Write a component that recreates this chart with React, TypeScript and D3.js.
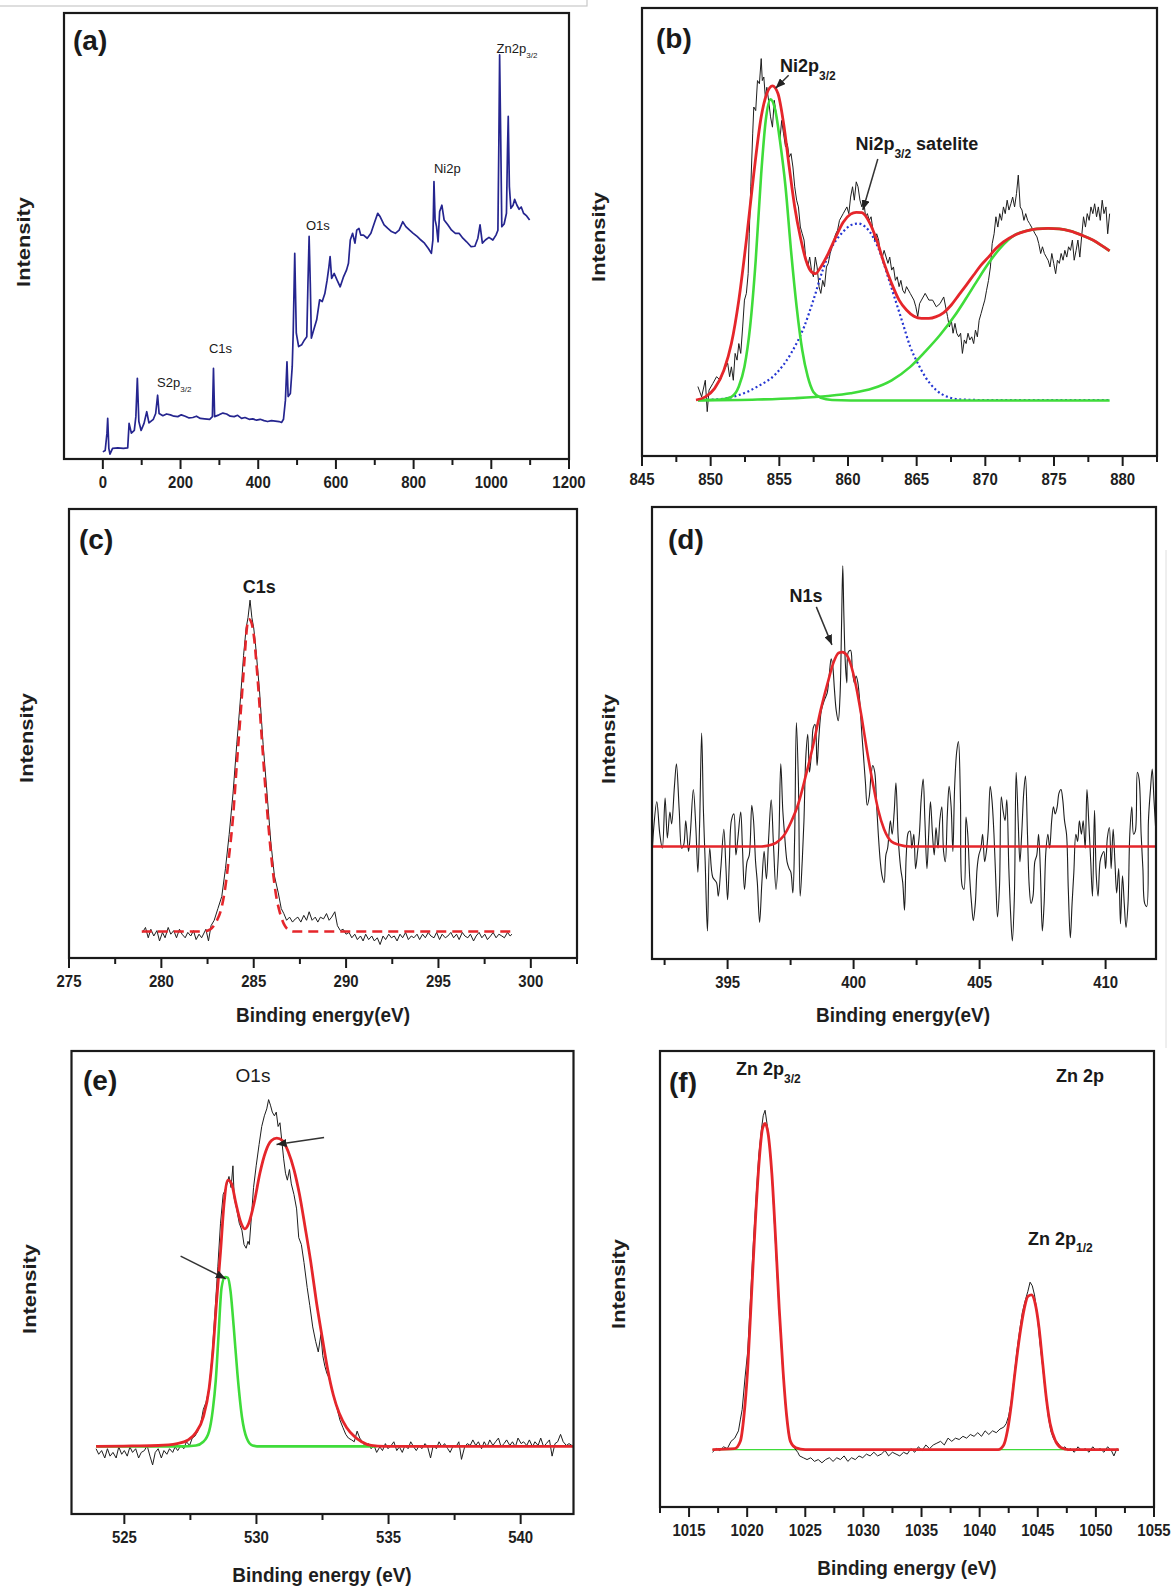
import React from "react";
import * as d3 from "d3";

type P = [number, number];

// ---------------- (a) survey spectrum ----------------
const surveyMajor = [0, 200, 400, 600, 800, 1000, 1200];
const surveyMinor = [100, 300, 500, 700, 900, 1100];
const surveySpectrum: P[] = [
  [0, 1.6], [6, 1.9], [10.6, 5.8], [12.5, 9.1], [15.4, 2.4], [18.3, 1.1], [25, 2.4], [38.6, 2.5], [53, 2.4], [64, 2.5],
  [67.6, 8.0], [73.4, 5.8], [81, 6.4], [85, 9.5], [88.8, 18.1], [92.7, 8.4], [98.5, 6.4], [106, 8.0], [113, 10.6], [118.7, 8.1],
  [130, 8.9], [136, 10.2], [141, 14.3], [144.8, 10.2], [154.5, 9.7], [164, 10.1], [174, 9.9], [183, 9.6], [193, 9.5], [202, 9.9],
  [212, 9.6], [222, 9.2], [231.7, 9.3], [241, 9.6], [251, 9.1], [262, 9.0], [275, 8.9], [282, 9.5], [284.8, 20.3], [287.7, 9.5],
  [299, 9.9], [309, 10.3], [318.6, 10.1], [328, 9.6], [338, 9.5], [347, 9.8], [357, 9.1], [366, 9.3], [376.5, 8.9], [386, 9.0],
  [395.8, 8.7], [405, 8.9], [415, 8.6], [424, 8.4], [434, 8.6], [444, 8.5], [453.7, 8.4], [460, 8.2], [465, 8.9], [470, 13.2],
  [474, 21.8], [477, 14.0], [482.7, 14.7], [487.5, 20.7], [490, 28.2], [494, 46.1], [498, 28.2], [504, 25.2], [511.7, 25.6], [519, 26.7],
  [525, 27.4], [528, 39.4], [531, 49.9], [534, 39.4], [536.8, 27.1], [542.7, 28.9], [550.5, 31.2], [558, 35.7], [564.8, 35.3], [571.5, 37.1],
  [577.3, 40.1], [582, 43.1], [585, 45.4], [589, 40.5], [595.6, 41.6], [603, 40.1], [611, 38.6], [619.8, 40.9], [627.5, 42.4], [632.3, 43.9],
  [637, 49.1], [643, 50.6], [649, 48.4], [653.6, 51.3], [659.4, 51.7], [664, 50.2], [671, 50.2], [680.6, 49.5], [690, 50.6], [700, 53.2],
  [707.6, 55.1], [714, 54.3], [724, 52.5], [733.7, 51.7], [743, 51.0], [753, 50.6], [762.7, 51.3], [772, 53.2], [780, 52.1], [789.7, 51.3],
  [799, 50.6], [809, 49.9], [818.7, 49.1], [828, 48.4], [838, 47.2], [845.7, 46.1], [849.6, 49.1], [852.4, 62.2], [855.3, 53.6], [859, 52.1],
  [863, 48.7], [867, 55.5], [872.7, 56.9], [878.5, 53.6], [888, 52.5], [897.8, 51.3], [907.5, 50.6], [917, 50.6], [926.8, 49.5], [936.4, 48.7],
  [948, 47.6], [957.7, 47.7], [965.4, 49.5], [971, 52.5], [977, 48.4], [984.7, 49.1], [994, 49.7], [1004, 49.1], [1012, 50.2], [1017, 51.3],
  [1019.5, 71.5], [1021.4, 90.6], [1024.3, 71.5], [1027, 52.1], [1033, 52.7], [1039, 55.1], [1041.7, 69.3], [1043.6, 76.8], [1046.5, 61.1], [1050.4, 56.2],
  [1056, 56.9], [1060, 58.2], [1066, 56.9], [1071.6, 56.0], [1077, 56.5], [1083, 55.1], [1091, 54.5], [1098.6, 53.6],
];

// ---------------- (b) Ni 2p ----------------
const niMajor = [845, 850, 855, 860, 865, 870, 875, 880];
const niMinor = [847.5, 852.5, 857.5, 862.5, 867.5, 872.5, 877.5, 882.5];
const niMeasured: P[] = [
  [849.07, 15.5], [849.34, 13.2], [849.61, 16.9], [849.75, 9.9], [849.88, 14.7], [850.16, 16.2], [850.43, 17.7], [850.7, 16.9], [850.97, 19.2], [851.24, 20.7],
  [851.38, 17.7], [851.51, 19.9], [851.65, 16.9], [851.78, 22.9], [851.92, 21.4], [852.05, 25.1], [852.19, 22.9], [852.33, 28.8], [852.46, 34.8], [852.6, 36.3],
  [852.73, 40.7], [852.81, 49.6], [852.92, 60.1], [853.06, 71.9], [853.14, 77.9], [853.28, 77.1], [853.41, 83.8], [853.55, 83.1], [853.68, 88.7], [853.76, 83.8],
  [853.87, 84.6], [853.98, 80.1], [854.09, 82.3], [854.22, 79.4], [854.36, 75.7], [854.5, 73.4], [854.63, 79.4], [854.77, 76.4], [854.9, 73.4], [855.04, 70.5],
  [855.17, 74.9], [855.31, 71.9], [855.45, 69.0], [855.58, 69.7], [855.72, 66.7], [855.85, 67.5], [855.99, 64.5], [856.12, 60.1], [856.26, 57.1], [856.39, 55.6],
  [856.53, 51.1], [856.67, 49.6], [856.8, 48.2], [856.94, 43.7], [857.07, 42.2], [857.21, 44.4], [857.34, 41.5], [857.48, 40.0], [857.62, 44.4], [857.75, 42.2],
  [857.89, 37.8], [858.02, 36.3], [858.16, 39.2], [858.29, 37.8], [858.43, 42.2], [858.56, 43.0], [858.7, 45.2], [858.84, 46.7], [858.97, 48.2], [859.11, 49.6],
  [859.24, 50.4], [859.38, 52.6], [859.65, 54.1], [859.92, 55.6], [860.06, 54.1], [860.19, 57.8], [860.33, 60.1], [860.46, 57.1], [860.6, 61.2], [860.73, 60.1],
  [860.87, 57.1], [861.01, 55.6], [861.14, 57.1], [861.28, 53.4], [861.41, 54.1], [861.55, 52.6], [861.68, 53.4], [861.82, 50.4], [861.95, 48.2], [862.09, 49.6],
  [862.23, 48.2], [862.36, 45.2], [862.5, 44.4], [862.63, 45.9], [862.91, 43.0], [863.04, 44.4], [863.18, 41.5], [863.31, 42.2], [863.45, 39.2], [863.58, 40.0],
  [863.72, 37.8], [863.85, 39.2], [863.99, 37.0], [864.13, 36.3], [864.26, 37.8], [864.53, 36.3], [864.8, 34.8], [864.94, 33.3], [865.08, 31.1], [865.21, 34.0],
  [865.35, 34.8], [865.62, 36.3], [865.89, 34.8], [866.16, 34.8], [866.43, 33.3], [866.7, 34.0], [866.97, 35.5], [867.25, 31.1], [867.38, 28.8], [867.52, 30.3],
  [867.65, 27.4], [867.79, 29.6], [867.92, 27.4], [868.06, 26.6], [868.2, 27.4], [868.33, 22.9], [868.47, 25.9], [868.6, 25.1], [868.74, 27.4], [868.87, 25.9],
  [869.01, 26.6], [869.15, 25.1], [869.28, 28.1], [869.42, 26.6], [869.55, 30.3], [869.69, 31.8], [869.82, 33.3], [869.96, 34.8], [870.09, 37.0], [870.23, 39.2],
  [870.37, 42.2], [870.5, 47.4], [870.64, 49.6], [870.77, 53.4], [870.91, 51.1], [871.05, 54.1], [871.18, 52.6], [871.32, 55.6], [871.45, 54.1], [871.59, 57.1],
  [871.72, 54.9], [871.86, 56.3], [871.99, 57.8], [872.13, 55.6], [872.27, 58.6], [872.4, 62.7], [872.54, 55.6], [872.67, 54.9], [872.81, 52.6], [872.94, 54.1],
  [873.08, 52.6], [873.22, 51.9], [873.49, 50.4], [873.62, 49.6], [873.76, 48.9], [873.89, 47.4], [874.03, 45.2], [874.16, 46.7], [874.3, 45.2], [874.44, 44.4],
  [874.57, 43.7], [874.71, 42.2], [874.84, 45.2], [874.98, 43.0], [875.12, 40.7], [875.25, 43.7], [875.39, 43.0], [875.52, 45.2], [875.66, 43.7], [875.79, 45.9],
  [875.93, 44.4], [876.06, 46.7], [876.2, 45.9], [876.34, 48.2], [876.47, 43.7], [876.61, 45.9], [876.74, 48.2], [876.88, 44.4], [877.01, 48.9], [877.15, 53.4],
  [877.29, 51.1], [877.42, 54.1], [877.56, 52.6], [877.69, 55.6], [877.83, 54.1], [877.96, 56.3], [878.1, 53.4], [878.23, 55.6], [878.37, 52.6], [878.51, 57.1],
  [878.64, 54.1], [878.78, 55.6], [878.91, 49.6], [879.05, 54.1],
];
const niEnvelope: P[] = [
  [848.93, 12.5], [849.61, 13.2], [850.29, 15.1], [850.97, 19.2], [851.51, 25.1], [852.05, 34.8], [852.6, 48.2], [853.14, 63.0], [853.68, 75.7], [854.09, 80.9],
  [854.5, 82.6], [854.9, 80.9], [855.31, 74.2], [855.72, 64.5], [856.12, 55.6], [856.53, 48.9], [856.94, 43.7], [857.34, 41.1], [857.62, 40.7], [858.02, 42.2],
  [858.56, 45.2], [859.11, 48.9], [859.65, 52.2], [860.19, 54.0], [860.6, 54.4], [861.01, 54.3], [861.55, 52.2], [862.09, 48.2], [862.63, 43.0], [863.18, 38.5],
  [863.72, 34.8], [864.26, 32.6], [864.8, 31.2], [865.35, 30.7], [865.89, 30.7], [866.43, 31.1], [866.97, 32.0], [867.52, 33.7], [868.06, 35.9], [868.6, 38.1],
  [869.15, 40.4], [869.69, 42.6], [870.23, 44.4], [870.77, 46.3], [871.32, 47.8], [872.13, 49.3], [872.94, 50.2], [873.76, 50.7], [874.57, 50.8], [875.39, 50.7],
  [876.2, 50.2], [877.01, 49.3], [877.83, 48.2], [878.51, 46.9], [879.05, 45.8],
];
const niMainPeak: P[] = [
  [849.07, 12.5], [850.7, 12.6], [851.51, 13.2], [852.05, 15.5], [852.46, 19.9], [852.87, 28.8], [853.28, 43.7], [853.68, 63.0], [854.01, 74.9], [854.36, 79.6],
  [854.71, 77.1], [855.04, 70.5], [855.45, 60.1], [855.85, 45.9], [856.26, 33.3], [856.67, 23.6], [857.07, 17.7], [857.48, 14.3], [858.02, 13.0], [858.84, 12.5],
  [860.19, 12.4], [879.05, 12.4],
];
const niBroadPeak: P[] = [
  [849.07, 12.4], [853.41, 12.6], [856.12, 12.9], [858.56, 13.4], [860.19, 14.0], [861.82, 15.1], [863.18, 16.9], [864.53, 19.9], [865.62, 23.3], [866.7, 27.0],
  [867.79, 31.4], [868.6, 35.2], [869.42, 39.2], [870.23, 43.0], [871.05, 46.3], [872.13, 49.3], [872.94, 50.2], [873.76, 50.7], [874.57, 50.8], [875.39, 50.7],
  [876.2, 50.2], [877.01, 49.3], [877.83, 48.2], [878.51, 46.9], [879.05, 45.8],
];
const niSatellite: P[] = [
  [849.07, 12.5], [850.7, 12.7], [852.05, 13.6], [853.41, 15.5], [854.77, 18.4], [855.85, 22.9], [856.8, 28.8], [857.48, 34.8], [858.16, 41.5], [858.84, 46.7],
  [859.51, 49.6], [860.19, 51.5], [860.73, 51.9], [861.28, 51.1], [861.82, 48.9], [862.36, 45.2], [862.91, 40.0], [863.45, 34.8], [863.99, 29.6], [864.53, 24.4],
  [865.08, 20.7], [865.62, 17.7], [866.43, 14.7], [867.25, 13.2], [868.33, 12.6], [869.69, 12.5], [879.05, 12.5],
];

// ---------------- (c) C 1s ----------------
const cMajor = [275, 280, 285, 290, 295, 300];
const cMinor = [277.5, 282.5, 287.5, 292.5, 297.5, 302.5];
const cMeasured: P[] = [
  [278.98, 5.7], [279.14, 6.8], [279.29, 4.5], [279.43, 6.4], [279.59, 4.9], [279.76, 6.1], [279.9, 3.8], [280.06, 5.7], [280.2, 4.5], [280.37, 6.8],
  [280.51, 5.3], [280.67, 6.1], [280.82, 4.5], [280.98, 6.4], [281.12, 5.3], [281.29, 4.5], [281.43, 5.7], [281.59, 4.9], [281.74, 6.1], [281.88, 4.1],
  [282.04, 5.3], [282.18, 4.5], [282.41, 6.4], [282.55, 3.8], [282.69, 7.2], [282.86, 8.4], [283.06, 11.0], [283.27, 13.7], [283.47, 19.9], [283.67, 27.5],
  [283.88, 36.7], [284.08, 47.5], [284.29, 58.2], [284.45, 67.4], [284.59, 73.5], [284.69, 75.8], [284.8, 79.7], [284.9, 75.8], [285.0, 73.5], [285.1, 69.7],
  [285.31, 59.7], [285.51, 47.5], [285.72, 36.7], [285.92, 26.0], [286.12, 18.3], [286.33, 14.5], [286.49, 11.0], [286.63, 9.9], [286.78, 8.4], [286.94, 9.1],
  [287.1, 8.0], [287.25, 8.7], [287.39, 9.1], [287.55, 8.0], [287.71, 9.5], [287.86, 8.4], [288.0, 10.3], [288.16, 8.4], [288.33, 9.1], [288.47, 8.0],
  [288.61, 9.1], [288.78, 8.7], [288.94, 9.9], [289.08, 8.4], [289.22, 9.1], [289.39, 10.3], [289.53, 7.2], [289.69, 6.1], [289.84, 6.4], [290.0, 5.3],
  [290.16, 5.7], [290.31, 4.5], [290.47, 5.3], [290.61, 4.1], [290.78, 4.9], [290.92, 3.8], [291.06, 5.3], [291.22, 4.1], [291.39, 4.9], [291.53, 3.8],
  [291.69, 4.5], [291.84, 3.0], [292.0, 4.9], [292.14, 4.1], [292.31, 5.3], [292.45, 4.5], [292.61, 4.9], [292.76, 3.8], [292.92, 5.3], [293.06, 4.5],
  [293.22, 5.7], [293.37, 4.1], [293.53, 4.9], [293.67, 4.5], [293.84, 5.3], [293.98, 4.1], [294.14, 5.3], [294.29, 4.5], [294.45, 5.7], [294.59, 4.9],
  [294.76, 4.5], [294.9, 5.7], [295.06, 4.1], [295.2, 5.3], [295.37, 4.5], [295.51, 4.9], [295.67, 5.7], [295.82, 4.5], [295.98, 5.3], [296.12, 4.1],
  [296.29, 5.7], [296.43, 4.9], [296.59, 4.5], [296.73, 5.3], [296.9, 3.8], [297.04, 4.9], [297.2, 5.7], [297.35, 4.5], [297.51, 5.3], [297.65, 4.1],
  [297.82, 4.9], [297.96, 5.7], [298.12, 4.5], [298.27, 5.3], [298.43, 4.9], [298.57, 4.5], [298.74, 5.7], [298.88, 4.9], [298.98, 5.3],
];
const cFit: P[] = [
  [278.94, 5.9], [282.24, 5.9], [282.65, 6.4], [282.96, 8.0], [283.27, 11.4], [283.47, 16.0], [283.67, 22.9], [283.88, 31.4], [284.08, 42.9], [284.29, 54.4],
  [284.49, 65.9], [284.63, 73.5], [284.73, 75.5], [284.84, 75.1], [285.0, 72.0], [285.2, 62.8], [285.41, 50.5], [285.61, 39.0], [285.82, 28.3], [286.02, 19.9],
  [286.22, 13.7], [286.43, 9.9], [286.63, 7.6], [286.84, 6.4], [287.14, 5.9], [298.98, 5.9],
];

// ---------------- (d) N 1s ----------------
const nMajor = [395, 400, 405, 410];
const nMinor = [392.5, 397.5, 402.5, 407.5];
const nMeasured: P[] = [
  [391.97, 18.8], [392.07, 29.1], [392.19, 34.8], [392.31, 27.6], [392.41, 24.5], [392.52, 35.6], [392.61, 26.8], [392.71, 32.5], [392.78, 29.9], [392.89, 38.2],
  [392.97, 43.2], [393.08, 32.9], [393.18, 24.5], [393.26, 25.3], [393.34, 30.6], [393.45, 23.8], [393.52, 27.6], [393.64, 37.5], [393.74, 29.1], [393.82, 19.2],
  [393.89, 29.9], [393.97, 50.0], [394.04, 32.9], [394.11, 21.5], [394.2, 6.2], [394.29, 24.5], [394.41, 18.1], [394.56, 16.9], [394.63, 13.9], [394.73, 20.0],
  [394.85, 28.7], [394.93, 20.7], [395.0, 13.1], [395.07, 21.5], [395.15, 30.6], [395.25, 32.1], [395.33, 23.0], [395.41, 26.8], [395.52, 32.5], [395.59, 24.5],
  [395.67, 15.4], [395.77, 21.5], [395.86, 23.0], [395.96, 34.0], [396.03, 30.6], [396.11, 21.5], [396.18, 16.9], [396.27, 8.1], [396.36, 16.9], [396.45, 23.8],
  [396.54, 17.7], [396.63, 26.8], [396.73, 35.2], [396.82, 25.3], [396.92, 15.4], [397.02, 23.8], [397.11, 43.2], [397.19, 32.9], [397.26, 27.6], [397.36, 21.5],
  [397.44, 20.0], [397.51, 19.2], [397.59, 14.6], [397.66, 26.8], [397.73, 52.3], [397.81, 39.0], [397.88, 13.9], [397.96, 21.5], [398.03, 30.6], [398.1, 44.3],
  [398.18, 49.7], [398.25, 41.3], [398.34, 46.6], [398.4, 51.2], [398.47, 51.9], [398.55, 42.8], [398.62, 48.9], [398.72, 55.0], [398.84, 57.3], [398.95, 58.8],
  [399.03, 62.6], [399.11, 66.4], [399.17, 64.9], [399.24, 59.6], [399.31, 55.0], [399.39, 52.7], [399.46, 58.0], [399.52, 73.3], [399.57, 87.0], [399.61, 77.1],
  [399.67, 65.7], [399.73, 61.1], [399.79, 67.9], [399.88, 68.3], [399.95, 64.1], [400.03, 61.1], [400.1, 62.6], [400.17, 61.1], [400.25, 56.5], [400.32, 50.4],
  [400.39, 45.1], [400.47, 39.0], [400.54, 34.0], [400.62, 35.9], [400.69, 40.5], [400.76, 42.8], [400.84, 41.3], [400.91, 34.4], [400.98, 27.6], [401.06, 21.5],
  [401.13, 18.4], [401.21, 16.9], [401.28, 23.0], [401.35, 24.5], [401.46, 30.6], [401.53, 27.6], [401.61, 32.5], [401.68, 39.0], [401.77, 26.8], [401.87, 20.0],
  [401.95, 16.9], [402.02, 10.8], [402.09, 23.0], [402.17, 28.0], [402.24, 28.3], [402.31, 24.5], [402.39, 27.6], [402.46, 20.0], [402.54, 23.8], [402.61, 27.6],
  [402.68, 35.2], [402.76, 39.8], [402.83, 30.6], [402.91, 20.0], [402.98, 27.6], [403.05, 34.8], [403.13, 27.6], [403.2, 23.0], [403.27, 29.1], [403.35, 24.5],
  [403.42, 30.6], [403.5, 33.7], [403.57, 23.8], [403.64, 21.5], [403.72, 32.1], [403.79, 38.2], [403.87, 33.7], [403.94, 23.8], [404.01, 38.2], [404.09, 45.8],
  [404.16, 48.1], [404.24, 35.2], [404.31, 16.1], [404.38, 15.4], [404.46, 31.4], [404.53, 27.6], [404.61, 17.7], [404.68, 12.3], [404.75, 8.5], [404.83, 12.3],
  [404.9, 20.0], [404.97, 23.0], [405.05, 24.5], [405.12, 27.6], [405.2, 21.5], [405.27, 23.8], [405.34, 28.3], [405.42, 38.2], [405.49, 35.2], [405.57, 27.6],
  [405.64, 17.7], [405.71, 9.3], [405.79, 16.1], [405.86, 35.9], [405.93, 32.9], [406.01, 30.6], [406.08, 35.2], [406.16, 20.0], [406.23, 10.1], [406.3, 4.0],
  [406.38, 13.9], [406.45, 41.3], [406.53, 30.6], [406.6, 21.5], [406.67, 27.6], [406.75, 36.7], [406.82, 40.5], [406.9, 27.6], [406.97, 16.1], [407.04, 12.3],
  [407.12, 13.9], [407.19, 21.5], [407.27, 23.0], [407.34, 27.6], [407.41, 20.0], [407.49, 6.2], [407.56, 12.3], [407.63, 23.8], [407.71, 27.6], [407.78, 24.5],
  [407.86, 30.6], [407.93, 33.7], [408.0, 32.1], [408.08, 33.7], [408.15, 36.7], [408.23, 37.5], [408.3, 35.2], [408.37, 30.6], [408.45, 27.6], [408.52, 15.4],
  [408.6, 4.7], [408.67, 12.3], [408.74, 19.2], [408.82, 27.6], [408.89, 26.0], [408.96, 30.6], [409.04, 27.6], [409.11, 30.6], [409.19, 24.5], [409.26, 37.5],
  [409.33, 30.6], [409.41, 21.5], [409.48, 13.9], [409.56, 32.9], [409.63, 18.4], [409.7, 13.9], [409.78, 21.5], [409.85, 23.0], [409.93, 23.8], [410.0, 20.0],
  [410.07, 26.8], [410.15, 29.1], [410.22, 20.0], [410.3, 28.7], [410.37, 21.5], [410.44, 14.6], [410.52, 20.0], [410.59, 7.8], [410.67, 18.4], [410.74, 12.3],
  [410.81, 7.0], [410.89, 12.3], [410.96, 27.6], [411.04, 33.7], [411.11, 27.6], [411.18, 28.3], [411.26, 41.3], [411.33, 39.8], [411.41, 27.6], [411.48, 20.0],
  [411.55, 12.3], [411.63, 11.6], [411.7, 30.6], [411.78, 37.5], [411.85, 42.0], [411.92, 35.2], [412.0, 27.6],
];
const nFit: P[] = [
  [391.97, 24.9], [396.33, 24.9], [396.63, 25.1], [396.92, 25.7], [397.22, 27.2], [397.51, 30.2], [397.81, 34.4], [398.1, 40.5], [398.4, 47.4], [398.69, 55.0],
  [398.99, 61.5], [399.21, 65.7], [399.4, 67.7], [399.55, 67.9], [399.73, 67.2], [399.88, 65.3], [400.1, 60.3], [400.32, 53.5], [400.54, 45.8], [400.76, 39.0],
  [400.98, 32.9], [401.21, 28.7], [401.5, 26.0], [401.8, 25.3], [402.24, 24.9], [412.0, 24.9],
];

// ---------------- (e) O 1s ----------------
const oMajor = [525, 530, 535, 540];
const oMinor = [527.5, 532.5, 537.5];
const oMeasured: P[] = [
  [523.93, 14.1], [524.03, 12.9], [524.14, 13.7], [524.26, 12.1], [524.36, 14.1], [524.46, 12.5], [524.57, 13.3], [524.69, 12.1], [524.79, 14.5], [524.9, 12.9],
  [525.0, 13.7], [525.11, 12.5], [525.21, 14.5], [525.31, 13.3], [525.43, 14.1], [525.54, 12.1], [525.64, 13.3], [525.76, 13.7], [525.86, 14.8], [525.97, 12.5],
  [526.07, 10.6], [526.17, 13.3], [526.28, 14.1], [526.4, 12.1], [526.5, 13.7], [526.61, 12.9], [526.71, 14.1], [526.83, 13.3], [526.92, 14.5], [527.02, 13.7],
  [527.14, 14.8], [527.25, 14.1], [527.35, 15.6], [527.47, 14.8], [527.57, 16.4], [527.67, 16.8], [527.78, 17.9], [527.89, 19.5], [527.99, 22.6], [528.09, 24.1],
  [528.21, 27.2], [528.31, 33.4], [528.42, 42.7], [528.54, 53.5], [528.64, 62.8], [528.74, 69.0], [528.85, 70.5], [528.96, 72.9], [529.04, 70.5], [529.11, 75.2],
  [529.16, 68.2], [529.25, 65.9], [529.35, 62.8], [529.45, 61.3], [529.53, 58.2], [529.61, 57.4], [529.68, 58.9], [529.73, 58.2], [529.81, 64.3], [529.89, 70.5],
  [529.99, 75.2], [530.1, 79.8], [530.2, 83.7], [530.3, 86.0], [530.39, 87.5], [530.46, 89.5], [530.53, 88.3], [530.6, 86.8], [530.68, 86.0], [530.75, 86.8],
  [530.82, 83.7], [530.89, 84.5], [530.96, 80.6], [531.03, 76.7], [531.1, 73.6], [531.17, 72.1], [531.25, 74.4], [531.32, 71.3], [531.42, 69.0], [531.52, 65.9],
  [531.6, 59.7], [531.7, 58.2], [531.8, 54.3], [531.92, 48.9], [532.02, 45.0], [532.13, 40.4], [532.24, 37.3], [532.34, 35.0], [532.44, 38.8], [532.51, 34.2],
  [532.59, 31.9], [532.67, 30.3], [532.74, 29.5], [532.84, 27.2], [532.94, 24.9], [533.06, 22.6], [533.16, 20.3], [533.27, 18.7], [533.38, 17.2], [533.48, 16.4],
  [533.6, 16.0], [533.7, 15.6], [533.81, 17.9], [533.91, 16.4], [534.01, 15.6], [534.13, 14.5], [534.24, 15.2], [534.34, 14.1], [534.45, 14.8], [534.55, 13.3],
  [534.67, 14.5], [534.77, 13.7], [534.88, 15.2], [534.98, 14.1], [535.1, 14.8], [535.2, 15.6], [535.31, 13.7], [535.41, 14.5], [535.52, 13.3], [535.62, 14.8],
  [535.74, 14.1], [535.84, 15.6], [535.95, 14.5], [536.05, 13.7], [536.16, 14.8], [536.26, 14.1], [536.38, 15.2], [536.48, 14.5], [536.59, 12.1], [536.69, 14.8],
  [536.81, 14.1], [536.91, 15.6], [537.02, 14.5], [537.12, 15.2], [537.24, 14.1], [537.33, 13.3], [537.45, 14.8], [537.55, 14.5], [537.66, 15.6], [537.76, 11.8],
  [537.88, 14.5], [537.98, 15.2], [538.09, 14.8], [538.19, 16.0], [538.3, 14.8], [538.4, 15.6], [538.52, 14.1], [538.62, 15.6], [538.73, 14.5], [538.83, 16.0],
  [538.95, 14.8], [539.05, 15.6], [539.16, 16.4], [539.26, 14.5], [539.37, 15.2], [539.47, 16.0], [539.59, 14.8], [539.69, 15.6], [539.8, 14.5], [539.9, 16.4],
  [540.02, 15.2], [540.11, 15.6], [540.23, 14.8], [540.33, 16.0], [540.45, 14.5], [540.54, 15.6], [540.66, 14.8], [540.76, 16.4], [540.87, 14.5], [540.97, 15.2],
  [541.09, 16.0], [541.19, 12.5], [541.3, 15.2], [541.4, 15.6], [541.51, 17.2], [541.61, 15.6], [541.73, 14.8], [541.83, 15.2], [541.94, 14.8],
];
const oEnvelope: P[] = [
  [523.93, 14.6], [525.29, 14.7], [526.28, 14.8], [527.0, 15.2], [527.42, 16.0], [527.71, 17.6], [527.99, 21.0], [528.21, 27.2], [528.35, 35.0], [528.49, 45.8],
  [528.64, 56.6], [528.78, 67.4], [528.92, 72.1], [529.06, 71.3], [529.21, 67.4], [529.42, 62.8], [529.56, 61.6], [529.71, 62.8], [529.92, 67.4], [530.13, 73.6],
  [530.35, 78.3], [530.56, 80.6], [530.77, 81.2], [530.99, 80.6], [531.2, 78.3], [531.42, 74.4], [531.63, 69.0], [531.84, 62.0], [532.06, 54.3], [532.27, 45.8],
  [532.49, 38.1], [532.7, 31.1], [532.91, 25.7], [533.13, 21.8], [533.41, 18.7], [533.7, 16.8], [533.98, 15.6], [534.34, 14.8], [534.84, 14.6], [542.0, 14.6],
];
const oLatticePeak: P[] = [
  [523.93, 14.6], [527.14, 14.6], [527.71, 14.8], [527.99, 15.6], [528.21, 17.9], [528.35, 22.6], [528.46, 28.8], [528.56, 38.1], [528.68, 48.9], [528.81, 51.2],
  [528.92, 51.0], [529.02, 48.1], [529.14, 40.4], [529.28, 30.3], [529.45, 21.0], [529.63, 16.4], [529.85, 14.8], [530.13, 14.6], [534.55, 14.6],
];

// ---------------- (f) Zn 2p ----------------
const zMajor = [1015, 1020, 1025, 1030, 1035, 1040, 1045, 1050, 1055];
const zMinor = [1012.5, 1017.5, 1022.5, 1027.5, 1032.5, 1037.5, 1042.5, 1047.5, 1052.5];
const zMeasured: P[] = [
  [1017.01, 12.0], [1017.33, 12.8], [1017.65, 12.4], [1017.97, 13.2], [1018.29, 12.8], [1018.61, 14.4], [1018.93, 15.1], [1019.25, 16.7], [1019.41, 19.1], [1019.57, 21.4],
  [1019.82, 28.5], [1020.04, 34.0], [1020.27, 45.0], [1020.52, 57.5], [1020.78, 68.5], [1021.0, 77.2], [1021.22, 82.7], [1021.38, 85.8], [1021.54, 87.0], [1021.7, 84.2],
  [1021.86, 81.1], [1022.12, 73.2], [1022.44, 57.5], [1022.76, 42.6], [1023.08, 29.3], [1023.33, 21.4], [1023.56, 15.9], [1023.87, 13.6], [1024.1, 12.8], [1024.35, 12.0],
  [1024.51, 11.2], [1024.83, 10.8], [1025.15, 10.4], [1025.47, 10.8], [1025.79, 10.0], [1026.11, 10.4], [1026.43, 9.7], [1026.75, 10.4], [1027.07, 10.8], [1027.39, 10.0],
  [1027.71, 10.8], [1028.02, 10.4], [1028.34, 11.2], [1028.66, 10.0], [1028.98, 10.8], [1029.3, 10.4], [1029.62, 11.2], [1029.94, 10.8], [1030.26, 11.6], [1030.58, 11.2],
  [1030.9, 12.0], [1031.22, 11.2], [1031.54, 11.6], [1031.86, 12.4], [1032.17, 11.2], [1032.49, 12.0], [1032.81, 11.6], [1033.13, 11.2], [1033.45, 12.0], [1033.77, 11.6],
  [1034.09, 12.8], [1034.41, 12.0], [1034.73, 13.2], [1035.05, 12.4], [1035.37, 13.6], [1035.69, 12.8], [1036.01, 13.6], [1036.32, 14.0], [1036.64, 14.4], [1036.96, 13.6],
  [1037.28, 15.1], [1037.6, 14.4], [1037.92, 15.1], [1038.24, 14.8], [1038.56, 15.5], [1038.88, 15.1], [1039.2, 15.9], [1039.52, 15.5], [1039.84, 16.3], [1040.16, 15.5],
  [1040.47, 16.7], [1040.79, 15.9], [1041.11, 16.7], [1041.43, 16.3], [1041.75, 17.1], [1042.07, 17.5], [1042.29, 18.3], [1042.49, 19.9], [1042.71, 23.0], [1042.93, 27.7],
  [1043.19, 34.0], [1043.44, 38.7], [1043.67, 42.6], [1043.89, 45.0], [1044.15, 47.3], [1044.34, 49.3], [1044.53, 48.5], [1044.72, 46.5], [1044.94, 42.6], [1045.17, 36.3],
  [1045.42, 30.8], [1045.68, 24.6], [1045.9, 19.9], [1046.12, 16.7], [1046.38, 14.8], [1046.63, 14.4], [1046.86, 13.6], [1047.08, 12.8], [1047.34, 13.2], [1047.59, 12.4],
  [1047.82, 12.8], [1048.14, 12.0], [1048.46, 13.2], [1048.77, 12.4], [1049.09, 12.8], [1049.41, 12.0], [1049.73, 13.2], [1050.05, 12.4], [1050.37, 12.8], [1050.69, 12.0],
  [1051.01, 13.2], [1051.33, 12.4], [1051.55, 11.2], [1051.81, 12.8], [1051.97, 12.4],
];
const zFit: P[] = [
  [1017.01, 12.6], [1018.93, 12.8], [1019.41, 14.4], [1019.72, 19.9], [1020.04, 30.1], [1020.36, 45.8], [1020.68, 61.5], [1021.0, 74.8], [1021.32, 83.0], [1021.54, 84.1],
  [1021.8, 81.9], [1022.12, 73.2], [1022.44, 59.1], [1022.76, 43.4], [1023.08, 30.1], [1023.4, 19.9], [1023.72, 14.4], [1024.19, 13.0], [1024.99, 12.6], [1041.59, 12.6],
  [1042.07, 13.6], [1042.39, 16.7], [1042.71, 22.2], [1043.03, 29.3], [1043.51, 38.7], [1043.83, 43.4], [1044.15, 46.2], [1044.46, 46.5], [1044.78, 44.6], [1045.1, 39.5],
  [1045.42, 31.6], [1045.74, 23.8], [1046.06, 18.3], [1046.54, 14.4], [1047.02, 13.0], [1047.66, 12.6], [1051.97, 12.6],
];
const zBaseline: P[] = [[1017.01, 12.6], [1051.97, 12.6]];

// ---------------- rendering ----------------
const FONT = "'Liberation Sans', Arial, Helvetica, sans-serif";
const RED = "#e5262b";
const GREEN = "#3fdc3a";
const BLUE = "#2536d2";
const INK = "#1e1e1e";

type CurveKind = "linear" | "smooth" | "wiggle";
interface Series { data: P[]; color: string; width: number; dash?: string; curve: CurveKind; }
interface LabelPart { t: string; sub?: boolean; }
interface Note { e: number; i: number; parts: LabelPart[]; size: number; weight: string; anchor?: string; }
interface Arrow { from: P; to: P; }
interface PanelCfg {
  id: string; left: number; right: number; top: number; bottom: number;
  xDomain: [number, number]; majors: number[]; minors: number[];
  series: Series[]; notes: Note[]; arrows: Arrow[];
  letter: string; letterPos: [number, number];
  yTitlePos: [number, number];
  xTitle?: string; xTitlePos?: [number, number];
}

const curveOf = (k: CurveKind) =>
  k === "linear" ? d3.curveLinear : k === "smooth" ? d3.curveMonotoneX : d3.curveCatmullRom.alpha(0.5);

const panels: PanelCfg[] = [
  {
    id: "a", left: 64, right: 569, top: 13, bottom: 459, xDomain: [-100, 1200],
    majors: surveyMajor, minors: surveyMinor,
    series: [{ data: surveySpectrum, color: "#25258f", width: 1.7, curve: "linear" }],
    notes: [
      { e: 139.6, i: 16.2, parts: [{ t: "S2p" }, { t: "3/2", sub: true }], size: 13, weight: "normal" },
      { e: 273, i: 23.8, parts: [{ t: "C1s" }], size: 13, weight: "normal" },
      { e: 523, i: 51.3, parts: [{ t: "O1s" }], size: 13, weight: "normal" },
      { e: 852.4, i: 64.2, parts: [{ t: "Ni2p" }], size: 13, weight: "normal" },
      { e: 1013.6, i: 91.1, parts: [{ t: "Zn2p" }, { t: "3/2", sub: true }], size: 13, weight: "normal" },
    ],
    arrows: [],
    letter: "(a)", letterPos: [73, 50], yTitlePos: [23, 242],
  },
  {
    id: "b", left: 642, right: 1157, top: 8, bottom: 456, xDomain: [845, 882.5],
    majors: niMajor, minors: niMinor,
    series: [
      { data: niMeasured, color: INK, width: 1, curve: "linear" },
      { data: niSatellite, color: BLUE, width: 2.2, dash: "2 2.6", curve: "smooth" },
      { data: niBroadPeak, color: GREEN, width: 2.6, curve: "smooth" },
      { data: niMainPeak, color: GREEN, width: 2.6, curve: "smooth" },
      { data: niEnvelope, color: RED, width: 2.8, curve: "smooth" },
    ],
    notes: [
      { e: 855.05, i: 85.7, parts: [{ t: "Ni2p" }, { t: "3/2", sub: true }], size: 18, weight: "bold" },
      { e: 860.54, i: 68.3, parts: [{ t: "Ni2p" }, { t: "3/2", sub: true }, { t: " satelite" }], size: 18, weight: "bold" },
    ],
    arrows: [
      { from: [855.68, 85.0], to: [854.73, 82.1] },
      { from: [862.17, 66.3], to: [861.08, 54.9] },
    ],
    letter: "(b)", letterPos: [656, 48], yTitlePos: [598, 237],
  },
  {
    id: "c", left: 69, right: 577, top: 509, bottom: 958, xDomain: [275, 302.5],
    majors: cMajor, minors: cMinor,
    series: [
      { data: cMeasured, color: INK, width: 1, curve: "linear" },
      { data: cFit, color: RED, width: 2.6, dash: "10 6", curve: "smooth" },
    ],
    notes: [{ e: 285.3, i: 81.3, parts: [{ t: "C1s" }], size: 18, weight: "bold", anchor: "middle" }],
    arrows: [],
    letter: "(c)", letterPos: [79, 549], yTitlePos: [26, 738],
    xTitle: "Binding energy(eV)", xTitlePos: [323, 1022],
  },
  {
    id: "d", left: 652, right: 1156, top: 507, bottom: 959, xDomain: [392, 412],
    majors: nMajor, minors: nMinor,
    series: [
      { data: nMeasured, color: INK, width: 1.1, curve: "wiggle" },
      { data: nFit, color: RED, width: 2.6, curve: "smooth" },
    ],
    notes: [{ e: 398.11, i: 79.0, parts: [{ t: "N1s" }], size: 18, weight: "bold", anchor: "middle" }],
    arrows: [{ from: [398.52, 77.9], to: [399.14, 69.5] }],
    letter: "(d)", letterPos: [668, 549], yTitlePos: [608, 739],
    xTitle: "Binding energy(eV)", xTitlePos: [903, 1022],
  },
  {
    id: "e", left: 71.5, right: 573.5, top: 1051, bottom: 1514, xDomain: [523, 542],
    majors: oMajor, minors: oMinor,
    series: [
      { data: oMeasured, color: INK, width: 1, curve: "linear" },
      { data: oLatticePeak, color: GREEN, width: 2.6, curve: "smooth" },
      { data: oEnvelope, color: RED, width: 2.8, curve: "smooth" },
    ],
    notes: [{ e: 529.87, i: 93.3, parts: [{ t: "O1s" }], size: 19, weight: "normal", anchor: "middle" }],
    arrows: [
      { from: [532.56, 81.3], to: [530.76, 79.8] },
      { from: [527.13, 55.7], to: [528.84, 50.8] },
    ],
    letter: "(e)", letterPos: [83, 1090], yTitlePos: [29, 1289],
    xTitle: "Binding energy (eV)", xTitlePos: [322, 1582],
  },
  {
    id: "f", left: 660, right: 1154, top: 1051, bottom: 1507, xDomain: [1012.5, 1055],
    majors: zMajor, minors: zMinor,
    series: [
      { data: zBaseline, color: GREEN, width: 1.3, curve: "linear" },
      { data: zMeasured, color: INK, width: 1, curve: "linear" },
      { data: zFit, color: RED, width: 2.8, curve: "smooth" },
    ],
    notes: [
      { e: 1019.04, i: 94.7, parts: [{ t: "Zn 2p" }, { t: "3/2", sub: true }], size: 18, weight: "bold" },
      { e: 1046.57, i: 93.2, parts: [{ t: "Zn 2p" }], size: 18, weight: "bold" },
      { e: 1044.16, i: 57.5, parts: [{ t: "Zn 2p" }, { t: "1/2", sub: true }], size: 18, weight: "bold" },
    ],
    arrows: [],
    letter: "(f)", letterPos: [669, 1092], yTitlePos: [618, 1284],
    xTitle: "Binding energy (eV)", xTitlePos: [907, 1575],
  },
];

function NoteText({ note, x, y }: { note: Note; x: number; y: number }) {
  const subSize = Math.round(note.size * 0.64);
  const shift = note.size * 0.42;
  let down = false;
  return (
    <text x={x} y={y} fontFamily={FONT} fontSize={note.size} fontWeight={note.weight} fill="#1a1a1a"
      textAnchor={note.anchor || "start"}>
      {note.parts.map((p, k) => {
        let dy = 0;
        if (p.sub && !down) { dy = shift; down = true; }
        else if (!p.sub && down) { dy = -shift; down = false; }
        return (
          <tspan key={k} dy={dy} fontSize={p.sub ? subSize : note.size} style={{ whiteSpace: "pre" }}>{p.t}</tspan>
        );
      })}
    </text>
  );
}

function Panel({ cfg }: { cfg: PanelCfg }) {
  const x = d3.scaleLinear().domain(cfg.xDomain).range([cfg.left, cfg.right]);
  const y = d3.scaleLinear().domain([0, 100]).range([cfg.bottom, cfg.top]);
  const clipId = `clip-${cfg.id}`;
  return (
    <g>
      <defs>
        <clipPath id={clipId}>
          <rect x={cfg.left} y={cfg.top} width={cfg.right - cfg.left} height={cfg.bottom - cfg.top} />
        </clipPath>
      </defs>
      <g clipPath={`url(#${clipId})`}>
        {cfg.series.map((s, k) => {
          const gen = d3.line<P>().x(d => x(d[0])).y(d => y(d[1])).curve(curveOf(s.curve));
          return (
            <path key={k} d={gen(s.data) || ""} fill="none" stroke={s.color} strokeWidth={s.width}
              strokeDasharray={s.dash} strokeLinejoin="round" />
          );
        })}
      </g>
      {cfg.arrows.map((a, k) => (
        <line key={k} x1={x(a.from[0])} y1={y(a.from[1])} x2={x(a.to[0])} y2={y(a.to[1])}
          stroke="#333" strokeWidth={1.5} markerEnd="url(#arrowHead)" />
      ))}
      {cfg.notes.map((n, k) => (
        <NoteText key={k} note={n} x={x(n.e)} y={y(n.i)} />
      ))}
      <rect x={cfg.left} y={cfg.top} width={cfg.right - cfg.left} height={cfg.bottom - cfg.top}
        fill="none" stroke="#1a1a1a" strokeWidth={2.2} />
      {cfg.majors.map(v => (
        <g key={`M${v}`}>
          <line x1={x(v)} x2={x(v)} y1={cfg.bottom} y2={cfg.bottom + 10} stroke="#1a1a1a" strokeWidth={2} />
          <text transform={`translate(${x(v)},${cfg.bottom + 29}) scale(0.88,1)`} textAnchor="middle"
            fontFamily={FONT} fontSize={17} fontWeight="bold" fill="#1e1e1e">{v}</text>
        </g>
      ))}
      {cfg.minors.map(v => (
        <line key={`m${v}`} x1={x(v)} x2={x(v)} y1={cfg.bottom} y2={cfg.bottom + 6} stroke="#1a1a1a" strokeWidth={2} />
      ))}
      <text x={cfg.letterPos[0]} y={cfg.letterPos[1]} fontFamily={FONT} fontSize={28} fontWeight="bold" fill="#1a1a1a">
        {cfg.letter}
      </text>
      <text transform={`translate(${cfg.yTitlePos[0]},${cfg.yTitlePos[1]}) rotate(-90) scale(1.15,1)`}
        textAnchor="middle" dominantBaseline="central" fontFamily={FONT} fontSize={19} fontWeight="bold" fill="#1e1e1e">
        Intensity
      </text>
      {cfg.xTitle && cfg.xTitlePos && (
        <text transform={`translate(${cfg.xTitlePos[0]},${cfg.xTitlePos[1]}) scale(0.95,1)`} textAnchor="middle"
          fontFamily={FONT} fontSize={20} fontWeight="bold" fill="#1e1e1e">
          {cfg.xTitle}
        </text>
      )}
    </g>
  );
}

export default function App() {
  return (
    <div style={{ position: "absolute", left: 0, top: 0, width: 1172, height: 1592, background: "#fff" }}>
      <svg width={1172} height={1592} viewBox="0 0 1172 1592" style={{ display: "block" }}>
        <defs>
          <marker id="arrowHead" markerUnits="userSpaceOnUse" markerWidth={10} markerHeight={8}
            refX={10} refY={4} orient="auto">
            <path d="M0,0 L10,4 L0,8 z" fill="#222" />
          </marker>
        </defs>
        <rect x={0} y={0} width={1172} height={1592} fill="#fff" />
        <rect x={-2} y={-2} width={589} height={8} fill="none" stroke="#c9c9c9" strokeWidth={1.2} />
        <line x1={1166} x2={1166} y1={550} y2={1048} stroke="#dedede" strokeWidth={1} />
        {panels.map(p => <Panel key={p.id} cfg={p} />)}
      </svg>
    </div>
  );
}
